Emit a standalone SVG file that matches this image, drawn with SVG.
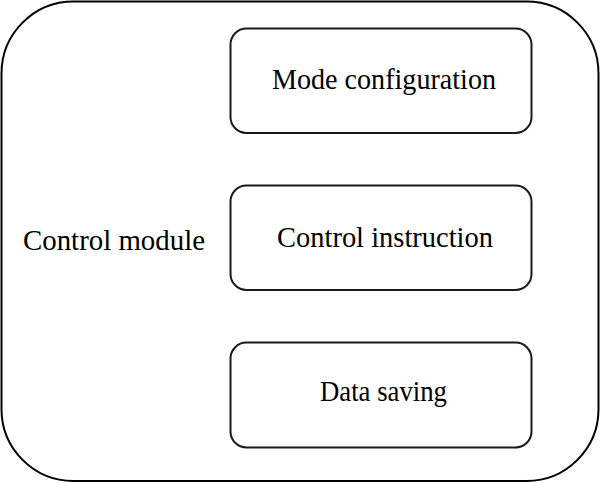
<svg xmlns="http://www.w3.org/2000/svg" width="600" height="483" viewBox="0 0 600 483">
<style>
.outer{fill:#fff;stroke:#000;stroke-width:2}
.box{fill:#fff;stroke:#1a1a1a;stroke-width:2}
text{font-family:"Liberation Serif","Times New Roman",serif;font-size:30px;fill:#000}
</style>
<rect width="600" height="483" fill="#fff"/>
<g id="control-module">
<rect class="outer" x="1.5" y="1.5" width="597" height="479.5" rx="72" ry="72"/>
<text x="23" y="250" textLength="182" lengthAdjust="spacingAndGlyphs">Control module</text>
</g>
<g id="mode-configuration">
<rect class="box" x="230.5" y="28.5" width="301" height="104.5" rx="16" ry="16"/>
<text x="272" y="89" textLength="224" lengthAdjust="spacingAndGlyphs">Mode configuration</text>
</g>
<g id="control-instruction">
<rect class="box" x="230.5" y="185.5" width="301" height="104.5" rx="16" ry="16"/>
<text x="277" y="247" textLength="216" lengthAdjust="spacingAndGlyphs">Control instruction</text>
</g>
<g id="data-saving">
<rect class="box" x="230.5" y="342.5" width="301" height="105" rx="16" ry="16"/>
<text x="320" y="401" textLength="127" lengthAdjust="spacingAndGlyphs">Data saving</text>
</g>
<g id="connectors"></g>
</svg>
